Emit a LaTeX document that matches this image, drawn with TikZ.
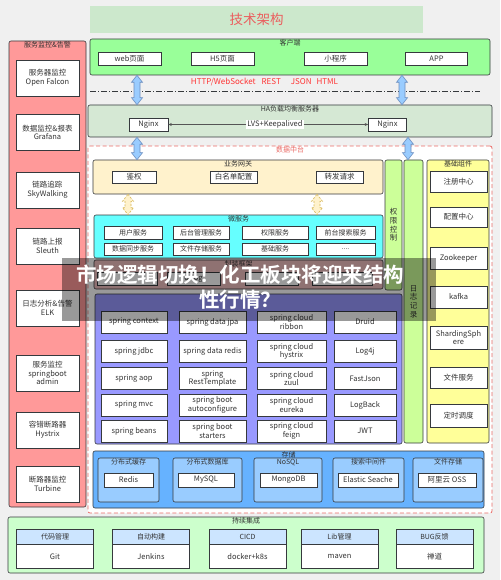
\documentclass[tikz,border=0pt]{standalone}
\usepackage{fontspec}
\setmainfont{Noto Sans CJK SC}[BoldFont={Noto Sans CJK SC Bold}]
\usepackage{xcolor}
\usepackage{tikz}
\usetikzlibrary{positioning,arrows.meta,calc}
\definecolor{PageGray}{HTML}{F0F0F0}
\definecolor{TitleGreen}{HTML}{CCE8CC}
\definecolor{TitleRed}{HTML}{EB5E5E}
\definecolor{MonPink}{HTML}{FF9999}
\definecolor{ClientGreen}{HTML}{99FF99}
\definecolor{HAGreen}{HTML}{D5E8D4}
\definecolor{DataRed}{HTML}{EA6B66}
\definecolor{GateYellow}{HTML}{FFF2CC}
\definecolor{MicroCyan}{HTML}{66FFFF}
\definecolor{FrameRose}{HTML}{EFBEBE}
\definecolor{SpringBlue}{HTML}{9999FF}
\definecolor{SideLime}{HTML}{CCFF99}
\definecolor{BaseYellow}{HTML}{FFFF99}
\definecolor{StoreBlue}{HTML}{66B2FF}
\definecolor{PanelBlue}{HTML}{99CCFF}
\definecolor{CIGreen}{HTML}{CCFFCC}
\definecolor{CIHead}{HTML}{CCE5FF}
\definecolor{ArrowBlue}{HTML}{99CCFF}
\definecolor{ArrowLine}{HTML}{6C8EBF}
\definecolor{ArrowYelLine}{HTML}{D6B656}
\definecolor{LineDark}{HTML}{36393D}
\definecolor{LineGray}{HTML}{555555}
\definecolor{TextDark}{HTML}{333333}
\definecolor{ProtoRed}{HTML}{FF3333}

\begin{document}
\begin{tikzpicture}[x=1pt,y=-1pt,
    every node/.style={font=\fontsize{7.5}{8.7}\selectfont, text=TextDark},
    grp/.style={draw=LineDark, line width=0.6pt, rounded corners=2pt, inner sep=0pt},
    bx/.style={draw=LineDark, line width=0.6pt, fill=white, inner sep=0pt, align=center},
    ttl/.style={font=\fontsize{7}{8}\selectfont, inner sep=1pt},
    sm/.style={font=\fontsize{7}{8}\selectfont},
    cihead/.style={draw=LineDark, line width=0.6pt, fill=CIHead, inner sep=0pt,
                   minimum width=77, minimum height=15, font=\fontsize{7}{8}\selectfont},
    blk/.style={line width=0.6pt, to path={let \p1=(\tikztostart), \p2=(\tikztotarget) in
        (\x1,\y1) -- (\x1+5.5pt,\y1-7pt) -- (\x1+3pt,\y1-7pt) -- (\x1+3pt,\y2+7pt)
        -- (\x1+5.5pt,\y2+7pt) -- (\x1,\y2) -- (\x1-5.5pt,\y2+7pt) -- (\x1-3pt,\y2+7pt)
        -- (\x1-3pt,\y1-7pt) -- (\x1-5.5pt,\y1-7pt) -- cycle}},
    bluearr/.style={blk, draw=ArrowLine, fill=ArrowBlue},
    yelarr/.style={blk, draw=ArrowYelLine, fill=GateYellow, dash pattern=on 2pt off 1.5pt},
    thinarr/.style={-{Stealth[length=3.5pt,width=3pt]}, LineGray, line width=0.5pt}]
  % page
  \fill[PageGray] (0,0) rectangle (500,580);
  \useasboundingbox (0,0) rectangle (500,580);
  \node[fill=TitleGreen, minimum width=333, minimum height=27, text=TitleRed,
        font=\fontsize{13.5}{14}\selectfont] (title) at (256.5,19.5) {技术架构};

  % monitoring column
  \node[grp, fill=MonPink, minimum width=77, minimum height=466] (mon) at (47.5,274) {};
  \node[ttl, below=0pt of mon.north] (monT) {服务监控\&告警};
  \node[bx, minimum width=63, minimum height=36] (falcon)  at (47.5,78)    {服务器监控\\Open Falcon};
  \node[bx, minimum width=63, minimum height=36] (grafana) at (47.5,132.5) {数据监控\&报表\\Grafana};
  \node[bx, minimum width=63, minimum height=36] (skyw)    at (47.5,190)   {链路追踪\\SkyWalking};
  \node[bx, minimum width=63, minimum height=36] (sleuth)  at (47.5,246)   {链路上报\\Sleuth};
  \node[bx, minimum width=63, minimum height=36] (elk)     at (47.5,308)   {日志分析\&告警\\ELK};
  \node[bx, minimum width=63, minimum height=36] (sbadmin) at (47.5,373)   {服务监控\\springboot\\admin};
  \node[bx, minimum width=63, minimum height=36] (hystrixM) at (47.5,430)  {容错断路器\\Hystrix};
  \node[bx, minimum width=63, minimum height=36] (turbine) at (47.5,484)   {断路器监控\\Turbine};

  % client side
  \node[grp, fill=ClientGreen, minimum width=400, minimum height=36] (client) at (290,57) {};
  \node[ttl, below=0pt of client.north] (clientT) {客户端};
  \node[bx, minimum width=63, minimum height=13] (web)  at (129.5,59) {web页面};
  \node[bx, minimum width=63, minimum height=13] (h5)   at (222.5,59) {H5页面};
  \node[bx, minimum width=63, minimum height=13] (mini) at (335.5,59) {小程序};
  \node[bx, minimum width=62, minimum height=13] (app)  at (436.5,59) {APP};
  \node[text=ProtoRed, font=\fontsize{8}{9}\selectfont] (proto) at (264.5,82)
    {HTTP/WebSocket\hspace{6pt}REST\hspace{10pt}JSON\hspace{5pt}HTML};
  \coordinate (sepL) at (90,91);
  \coordinate (sepR) at (480,91);
  \draw[LineDark, line width=0.6pt, dash pattern=on 6pt off 2pt on 1pt off 2pt] (sepL) -- (sepR);

  % load balancing
  \node[grp, fill=HAGreen, minimum width=404, minimum height=32] (ha) at (290,121) {};
  \node[ttl, below=0pt of ha.north] (haT) {HA负载均衡服务器};
  \node[bx, minimum width=39, minimum height=13] (ngxL) at (148.5,124.5) {Nginx};
  \node[bx, minimum width=38, minimum height=13] (ngxR) at (387.5,124.5) {Nginx};
  \node[fill=white, inner sep=1pt] (lvs) at (275,124.5) {LVS+Keepalived};
  \draw[thinarr] (lvs) -- (ngxL);
  \draw[thinarr] (lvs) -- (ngxR);

  % data platform
  \node[draw=DataRed, line width=0.8pt, dash pattern=on 4pt off 2.5pt, fill=white,
        rounded corners=2pt, minimum width=404, minimum height=367] (data) at (290,329.5) {};
  \node[ttl, text=DataRed, below=0pt of data.north] (dataT) {数据中台};

  \node[grp, fill=GateYellow, minimum width=290, minimum height=34] (gw) at (238,177) {};
  \node[ttl, below=0pt of gw.north] (gwT) {业务网关};
  \node[bx, minimum width=44, minimum height=12] (auth)  at (134,177)   {鉴权};
  \node[bx, minimum width=47, minimum height=12] (wlist) at (233.5,177) {白名单配置};
  \node[bx, minimum width=47, minimum height=12] (fwd)   at (339.5,177) {转发请求};

  \node[grp, fill=MicroCyan, minimum width=289, minimum height=43] (ms) at (238.5,236.5) {};
  \node[ttl, below=0pt of ms.north] (msT) {微服务};
  \node[bx, sm, minimum width=58, minimum height=13] (users)  at (133,232.5)   {用户服务};
  \node[bx, sm, minimum width=56, minimum height=13] (admin)  at (201,232.5)   {后台管理服务};
  \node[bx, sm, minimum width=66, minimum height=13] (perms)  at (275,232.5)   {权限服务};
  \node[bx, sm, minimum width=59, minimum height=13] (search) at (345.5,232.5) {前台搜索服务};
  \node[bx, sm, minimum width=58, minimum height=12] (sync)   at (133,249)     {数据同步服务};
  \node[bx, sm, minimum width=56, minimum height=12] (files)  at (201,249)     {文件存储服务};
  \node[bx, sm, minimum width=66, minimum height=12] (basic)  at (275,249)     {基础服务};
  \node[bx, sm, minimum width=59, minimum height=12] (more)   at (345.5,249)   {....};

  \node[grp, fill=FrameRose, minimum width=289, minimum height=29] (fw) at (238.5,274.5) {};
  \node[ttl, below=0pt of fw.north] (fwT) {封装框架};
  \node[bx, minimum width=60, minimum height=13] (fw1) at (127,278.5)   {};
  \node[bx, minimum width=53, minimum height=13] (fw2) at (193.5,278.5) {o-log};
  \node[bx, minimum width=53, minimum height=13] (fw3) at (271.5,278.5) {};
  \node[bx, minimum width=60, minimum height=13] (fw4) at (342,278.5)   {};

  \node[grp, fill=SpringBlue, minimum width=307, minimum height=150] (spring) at (248.5,369) {};
  \node[bx, minimum width=66, minimum height=22] (ctx)   at (134,322)   {spring context};
  \node[bx, minimum width=66, minimum height=22] (jdbc)  at (134,351.5) {spring jdbc};
  \node[bx, minimum width=66, minimum height=22] (aop)   at (134,378.5) {spring aop};
  \node[bx, minimum width=66, minimum height=22] (mvc)   at (134,405)   {spring mvc};
  \node[bx, minimum width=66, minimum height=22] (beans) at (134,431)   {spring beans};
  \node[bx, minimum width=67, minimum height=22] (jpa)   at (212.5,322)   {spring data jpa};
  \node[bx, minimum width=67, minimum height=22] (sredis) at (212.5,351.5) {spring data redis};
  \node[bx, minimum width=67, minimum height=22] (rest)  at (212.5,378.5) {spring\\RestTemplate};
  \node[bx, minimum width=67, minimum height=22] (auto)  at (212.5,405)   {spring boot\\autoconfigure};
  \node[bx, minimum width=67, minimum height=22] (starters) at (212.5,431) {spring boot\\starters};
  \node[bx, minimum width=69, minimum height=22] (ribbon)  at (291.5,322)   {spring cloud\\ribbon};
  \node[bx, minimum width=69, minimum height=22] (hystrix) at (291.5,351.5) {spring cloud\\hystrix};
  \node[bx, minimum width=69, minimum height=22] (zuul)    at (291.5,378.5) {spring cloud\\zuul};
  \node[bx, minimum width=69, minimum height=22] (eureka)  at (291.5,405)   {spring cloud\\eureka};
  \node[bx, minimum width=69, minimum height=22] (feign)   at (291.5,431)   {spring cloud\\feign};
  \node[bx, minimum width=62, minimum height=22] (druid)    at (365,322)   {Druid};
  \node[bx, minimum width=62, minimum height=22] (logj)     at (365,351.5) {Log4j};
  \node[bx, minimum width=62, minimum height=22] (fastjson) at (365,378.5) {FastJson};
  \node[bx, minimum width=62, minimum height=22] (logback)  at (365,405)   {LogBack};
  \node[bx, minimum width=62, minimum height=22] (jwt)      at (365,431)   {JWT};

  % side columns
  \node[grp, fill=SideLime, minimum width=17, minimum height=130, align=center] (perm) at (393.5,225) {权\\限\\控\\制};
  \node[grp, fill=SideLime, minimum width=19, minimum height=283, align=center] (logs) at (413.5,301.5) {日\\志\\记\\录};
  \node[grp, fill=BaseYellow, minimum width=62, minimum height=283] (base) at (458,301.5) {};
  \node[ttl, below=0pt of base.north] (baseT) {基础组件};
  \node[bx, minimum width=57, minimum height=21] (reg)   at (458.5,181.5) {注册中心};
  \node[bx, minimum width=57, minimum height=20] (conf)  at (458.5,217)   {配置中心};
  \node[bx, minimum width=57, minimum height=22] (zk)    at (458.5,258)   {Zookeeper};
  \node[bx, minimum width=57, minimum height=22] (kafka) at (458.5,297)   {kafka};
  \node[bx, minimum width=57, minimum height=23] (shard) at (458.5,337.5) {ShardingSph\\ere};
  \node[bx, minimum width=57, minimum height=21] (fsvc)  at (458.5,377.5) {文件服务};
  \node[bx, minimum width=57, minimum height=23] (sched) at (458.5,415.5) {定时调度};

  % storage
  \node[grp, fill=StoreBlue, minimum width=391, minimum height=57] (store) at (288.5,479.5) {};
  \node[ttl, below=0pt of store.north] (storeT) {存储};
  \node[grp, fill=PanelBlue, minimum width=61, minimum height=44] (cache) at (128.5,480) {};
  \node[grp, fill=PanelBlue, minimum width=69, minimum height=44] (db)    at (207.5,480) {};
  \node[grp, fill=PanelBlue, minimum width=68, minimum height=44] (nosql) at (288,480)   {};
  \node[grp, fill=PanelBlue, minimum width=71, minimum height=44] (es)    at (368.5,480) {};
  \node[grp, fill=PanelBlue, minimum width=70, minimum height=44] (oss)   at (448,480)   {};
  \node[ttl, below=0pt of cache.north] (cacheT) {分布式缓存};
  \node[ttl, below=0pt of db.north]    (dbT)    {分布式数据库};
  \node[ttl, below=0pt of nosql.north] (nosqlT) {NoSQL};
  \node[ttl, below=0pt of es.north]    (esT)    {搜索中间件};
  \node[ttl, below=0pt of oss.north]   (ossT)   {文件存储};
  \node[bx, minimum width=49, minimum height=14] (redis)   at (128.5,480) {Redis};
  \node[bx, minimum width=56, minimum height=14] (mysql)   at (206,480)   {MySQL};
  \node[bx, minimum width=57, minimum height=14] (mongo)   at (288.5,480) {MongoDB};
  \node[bx, minimum width=60, minimum height=14] (elastic) at (368,480)   {Elastic Seache};
  \node[bx, minimum width=58, minimum height=14] (aliyun)  at (447,480)   {阿里云 OSS};

  % continuous integration
  \node[grp, fill=CIGreen, minimum width=476, minimum height=56] (ci) at (246,545) {};
  \node[ttl, below=0pt of ci.north] (ciT) {持续集成};
  \node[cihead] (gitH)     at (55,536.5)    {代码管理};
  \node[cihead] (jenkinsH) at (151,536.5)   {自动构建};
  \node[cihead] (cicdH)    at (247.5,536.5) {CICD};
  \node[cihead] (libH)     at (339.5,536.5) {Lib管理};
  \node[cihead] (bugH)     at (434.5,536.5) {BUG反馈};
  \node[bx, minimum width=77, minimum height=24, below=0pt of gitH]     (git)     {Git};
  \node[bx, minimum width=77, minimum height=24, below=0pt of jenkinsH] (jenkins) {Jenkins};
  \node[bx, minimum width=77, minimum height=24, below=0pt of cicdH]    (docker)  {docker+k8s};
  \node[bx, minimum width=77, minimum height=24, below=0pt of libH]     (maven)   {maven};
  \node[bx, minimum width=77, minimum height=24, below=0pt of bugH]     (zentao)  {禅道};

  % block arrows
  \coordinate (axL) at (137,0);
  \coordinate (axR) at (402,0);
  \coordinate (axLog) at (408,0);
  \coordinate (ayL) at (128,0);
  \coordinate (ayR) at (317,0);
  \draw[bluearr] (client.south -| axL) to (ha.north -| axL);
  \draw[bluearr] (client.south -| axR) to (ha.north -| axR);
  \draw[bluearr] (ha.south -| axL) to (gw.north -| axL);
  \draw[bluearr] (ha.south -| axLog) to (logs.north -| axLog);
  \draw[yelarr] (gw.south -| ayL) to (ms.north -| ayL);
  \draw[yelarr] (gw.south -| ayR) to (ms.north -| ayR);

  % banner over the picture
  \node[fill=black, fill opacity=0.4, minimum width=374, minimum height=63] (wmbox) at (249,289.5) {};
  \node[text=white, align=center, font=\fontsize{20.5}{25}\selectfont\bfseries] (wm) at (240,287.5)
    {市场逻辑切换！化工板块将迎来结构\\性行情？};
\end{tikzpicture}
\end{document}
